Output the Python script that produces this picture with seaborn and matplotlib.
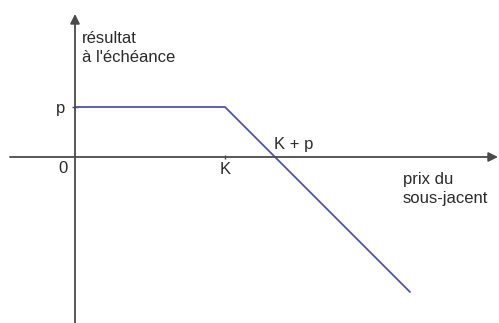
import matplotlib
matplotlib.use("Agg")
import matplotlib.pyplot as plt
import seaborn as sns
import pandas as pd

# payoff of a short put (vendeur d'un put): premium p, strike K
K = 150
p = 50
payoff_x = [0, 150, 335]
payoff_y = [50, 50, -135]

sns.set_theme(style="white")
plt.rcParams['font.family'] = ['Liberation Sans', 'DejaVu Sans']

axis_color = '#4a4a4a'
line_color = '#5252b0'
text_color = '#2b2b2b'

fig = plt.figure(figsize=(4.99, 3.23), dpi=100)
ax = fig.add_axes([0, 0, 1, 1])
ax.set_xlim(-75, 424)
ax.set_ylim(-166, 157)

df = pd.DataFrame({'prix': payoff_x, 'resultat': payoff_y})
sns.lineplot(data=df, x='prix', y='resultat', sort=False, color=line_color, lw=1.3, ax=ax, zorder=3)

# axes drawn as arrows, spines only used to place the ticks
ax.spines['bottom'].set_position(('data', 0))
ax.spines['left'].set_position(('data', 0))
for s in ax.spines.values():
    s.set_visible(False)
ax.annotate('', xy=(423, 0), xytext=(-65, 0),
            arrowprops=dict(arrowstyle='-|>', color=axis_color, lw=1.3, mutation_scale=14, shrinkA=0, shrinkB=0))
ax.annotate('', xy=(0, 143), xytext=(0, -166),
            arrowprops=dict(arrowstyle='-|>', color=axis_color, lw=1.3, mutation_scale=14, shrinkA=0, shrinkB=0))

ax.set_xticks([K])
ax.set_xticklabels(['K'])
ax.set_yticks([p])
ax.set_yticklabels(['p'])
ax.tick_params(axis='x', direction='inout', length=3, width=1, color=axis_color, pad=2,
               labelsize=12, labelcolor=text_color, bottom=True)
ax.tick_params(axis='y', direction='inout', length=4, width=1, color=axis_color, pad=5,
               labelsize=12, labelcolor=text_color, left=True)
ax.set_xlabel('')
ax.set_ylabel('')

ax.text(-12, -12, '0', fontsize=12, color=text_color, ha='center', va='center')
ax.text(199, 12, 'K + p', fontsize=12, color=text_color, ha='left', va='center')
ax.text(7, 109, "résultat\nà l'échéance", fontsize=12, color=text_color,
        ha='left', va='center', linespacing=1.35)
ax.text(328, -32, 'prix du\nsous-jacent', fontsize=12, color=text_color,
        ha='left', va='center', linespacing=1.35)

fig.savefig('out.png', dpi=100, facecolor='white')
